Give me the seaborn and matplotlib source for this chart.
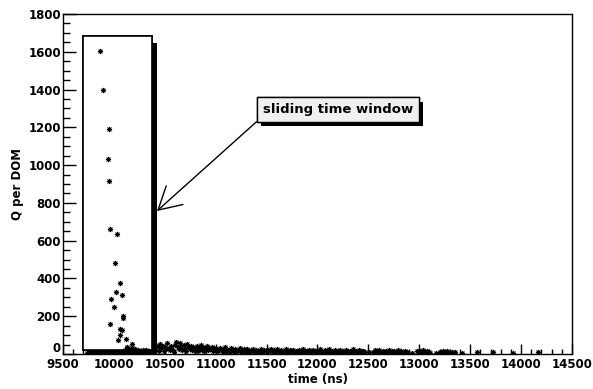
import numpy as np
import pandas as pd
import matplotlib
matplotlib.use("Agg")
import matplotlib.pyplot as plt
import matplotlib.patheffects as pe
from matplotlib.patches import Rectangle
from matplotlib.ticker import MultipleLocator, FuncFormatter
import seaborn as sns

# pulse: the large early charges
peak_t = [9735, 9863, 9890, 9949, 9939, 9955, 9959, 10030, 10014, 10060, 10017, 10076,
          9975, 9998, 10085, 10088, 9962, 10063, 10076, 10060, 10040, 10119, 10178, 10125]
peak_q = [5, 1604, 1398, 1190, 1031, 914, 660, 637, 484, 374, 330, 311,
          293, 251, 201, 190, 159, 134, 128, 99, 74, 81, 53, 32]

# tail: small charges after the pulse
tail_a_t = [10105, 10118, 10130, 10142, 10150, 10163, 10175, 10188, 10197, 10210, 10222, 10235,
            10246, 10258, 10270, 10283, 10295, 10306, 10318, 10330, 10342, 10355, 10366, 10378]
tail_a_q = [22, 15, 38, 9, 27, 12, 30, 6, 18, 25, 11, 20, 8, 16, 13, 22, 7, 14, 19, 10, 17, 5, 12, 9]

tail_b_t = [10392, 10405, 10418, 10430, 10441, 10455, 10467, 10478, 10490, 10503, 10515, 10526,
            10540, 10552, 10563, 10575, 10588, 10600, 10612, 10625, 10636, 10648, 10660, 10673,
            10685, 10697, 10708, 10720, 10733, 10745, 10756, 10768, 10780, 10793, 10805, 10817,
            10828, 10840, 10853, 10865, 10877, 10888, 10900, 10913, 10925, 10937, 10948, 10960,
            10973, 10985, 10997]
tail_b_q = [35, 48, 22, 40, 15, 55, 30, 42, 18, 38, 25, 60, 33, 20, 45, 28, 12, 50, 66, 36,
            24, 58, 41, 19, 47, 30, 15, 52, 38, 26, 44, 20, 35, 14, 29, 40, 18, 33, 48, 22,
            37, 15, 28, 42, 20, 33, 25, 38, 16, 30, 22]

tail_c_t = [11010, 11024, 11039, 11052, 11068, 11081, 11096, 11110, 11123, 11139, 11152, 11166,
            11181, 11194, 11208, 11223, 11236, 11251, 11265, 11279, 11293, 11306, 11321, 11335,
            11348, 11363, 11377, 11392, 11405, 11419, 11433, 11448, 11461, 11476, 11490, 11503,
            11518, 11532, 11546, 11560, 11575, 11588, 11603, 11617, 11631, 11645, 11659, 11673,
            11688, 11701, 11716, 11730, 11744, 11758, 11773, 11786, 11801, 11815, 11829, 11843,
            11857, 11872, 11886, 11900, 11914, 11929, 11943, 11957, 11971, 11986]
tail_c_q = [28, 15, 33, 20, 10, 25, 38, 17, 22, 12, 30, 19, 8, 26, 14, 21, 32, 11, 18, 24,
            9, 27, 16, 13, 20, 29, 10, 23, 15, 18, 7, 25, 12, 20, 16, 9, 22, 14, 27, 11,
            19, 8, 24, 15, 12, 21, 10, 17, 26, 13, 9, 19, 14, 22, 11, 16, 7, 20, 13, 18,
            24, 10, 15, 12, 19, 8, 17, 23, 11, 14]

tail_d_t = [12000, 12015, 12029, 12044, 12058, 12073, 12087, 12102, 12116, 12131, 12145, 12160,
            12174, 12189, 12203, 12218, 12232, 12247, 12261, 12276, 12290, 12305, 12319, 12334,
            12348, 12363, 12377, 12392, 12406, 12421, 12435, 12450, 12464, 12505, 12545, 12560,
            12574, 12589, 12603, 12618, 12632, 12647, 12661, 12676, 12690, 12705, 12719, 12734,
            12748, 12763, 12777, 12792, 12806, 12821, 12835, 12850, 12864, 12879, 12930, 12977,
            12991, 13006, 13020, 13035, 13049, 13064, 13078, 13093, 13105, 13160, 13203, 13217,
            13232, 13246, 13261, 13275, 13290, 13304, 13319, 13333, 13348]
tail_d_q = [18, 9, 24, 13, 7, 20, 15, 11, 26, 8, 17, 12, 22, 6, 14, 19, 10, 16, 8, 21,
            13, 9, 18, 11, 25, 7, 15, 12, 20, 9, 14, 17, 8, 10, 12, 19, 7, 15, 22, 10,
            13, 18, 6, 16, 11, 21, 9, 14, 17, 8, 12, 19, 10, 15, 7, 13, 18, 9, 6, 14,
            10, 17, 8, 22, 12, 9, 15, 11, 7, 5, 13, 9, 16, 8, 11, 14, 7, 10, 12, 6, 9]

late_t = [13420, 13567, 13724, 13920, 14166]
late_q = [5, 8, 12, 4, 8]

times = peak_t + tail_a_t + tail_b_t + tail_c_t + tail_d_t + late_t
charges = peak_q + tail_a_q + tail_b_q + tail_c_q + tail_d_q + late_q
df = pd.DataFrame({"time": times, "q": charges})

sns.set_style("white")
plt.rcParams["font.family"] = ["DejaVu Sans"]
plt.rcParams["font.weight"] = "bold"
plt.rcParams["text.color"] = "black"
plt.rcParams["xtick.color"] = "black"
plt.rcParams["ytick.color"] = "black"
plt.rcParams["axes.labelcolor"] = "black"

fig = plt.figure(figsize=(5.93, 3.89), dpi=100)
ax = fig.add_axes([63 / 593, 1 - 354 / 389, (572 - 63) / 593, (354 - 14) / 389])

# the window box with its shadow
win = Rectangle((9700, 20), 675, 1663, facecolor="white", edgecolor="black", lw=1.2, zorder=1.5)
win.set_path_effects([pe.withSimplePatchShadow(offset=(3.6, -5), shadow_rgbFace="black", alpha=1.0),
                      pe.Normal()])
ax.add_patch(win)

sns.scatterplot(data=df, x="time", y="q", ax=ax, marker=(8, 2, 0), color="black",
                s=10, linewidth=0.7, zorder=3, legend=False)

ax.set_xlim(9500, 14500)
ax.set_ylim(0, 1800)
ax.xaxis.set_major_locator(MultipleLocator(500))
ax.xaxis.set_minor_locator(MultipleLocator(100))
ax.yaxis.set_major_locator(MultipleLocator(200))
ax.yaxis.set_minor_locator(MultipleLocator(50))
# the "0" is drawn separately, a little higher
ax.yaxis.set_major_formatter(FuncFormatter(lambda v, p: "" if v == 0 else f"{v:.0f}"))
ax.tick_params(bottom=True, left=True, top=False, right=False, which="both")
ax.tick_params(axis="x", which="major", direction="in", length=7.2, width=1, pad=3, labelsize=8.5)
ax.tick_params(axis="x", which="minor", direction="in", length=3.6, width=1)
ax.tick_params(axis="y", which="major", direction="in", length=9.4, width=1, pad=1.5, labelsize=8.5)
ax.tick_params(axis="y", which="minor", direction="in", length=5, width=1)
for s in ax.spines.values():
    s.set_linewidth(1)
    s.set_color("black")

ax.annotate("0", xy=(0, 0), xycoords="axes fraction", xytext=(-1.5, -0.4),
            textcoords="offset points", ha="right", va="bottom", fontsize=8.5, fontweight="bold")

ax.set_xlabel("time (ns)", fontsize=8.5, fontweight="bold", labelpad=1)
ax.set_ylabel("Q per DOM", fontsize=8.5, fontweight="bold", labelpad=3)

ann = ax.annotate("sliding time window", xy=(10423, 757), xytext=(12201, 1294),
                  ha="center", va="center", fontsize=9.5, fontweight="bold", zorder=5,
                  bbox=dict(boxstyle="square,pad=0.45", fc="#f0f0f0", ec="black", lw=1),
                  arrowprops=dict(arrowstyle="->,head_length=1.6,head_width=0.9", lw=1,
                                  color="black", relpos=(0, 0), shrinkA=0, shrinkB=0,
                                  mutation_scale=10))
ann.get_bbox_patch().set_path_effects([pe.withSimplePatchShadow(offset=(2.9, -3.2), shadow_rgbFace="black",
                                                                alpha=1.0), pe.Normal()])

fig.savefig("out.png", dpi=100)
